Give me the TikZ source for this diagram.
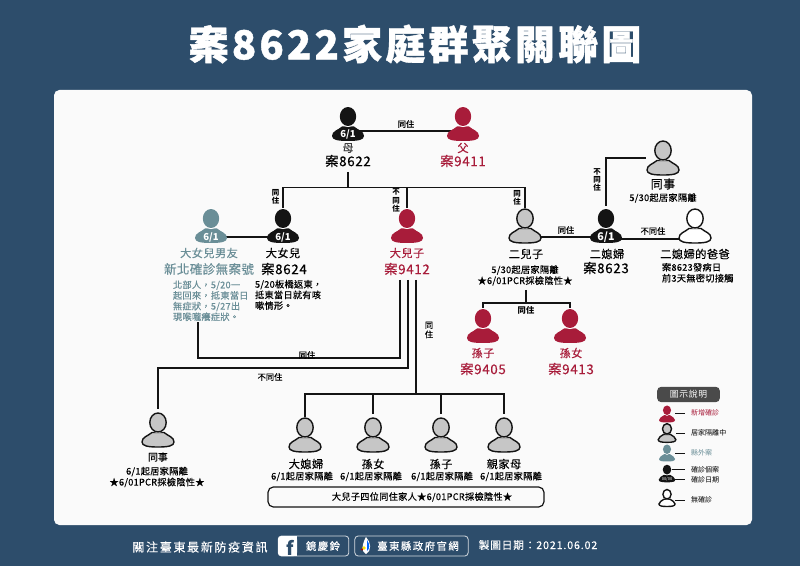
\documentclass[tikz,border=0pt]{standalone}
\usepackage{fontspec}
\setmainfont{Noto Sans CJK TC}
\usetikzlibrary{backgrounds}
\pgfdeclarelayer{cardlayer}
\pgfdeclarelayer{linelayer}
\pgfsetlayers{cardlayer,linelayer,main}
\definecolor{navy}{HTML}{2D4D6B}
\definecolor{cardc}{HTML}{FAFAFA}
\definecolor{redc}{HTML}{A81C3A}
\definecolor{tealc}{HTML}{6A8E97}
\definecolor{greyc}{HTML}{C6C6C6}
\definecolor{inkc}{HTML}{141414}
\definecolor{legc}{HTML}{4A4A4A}
\tikzset{
 x=0.75pt,y=-0.75pt,
 conn/.style={draw=inkc,line width=1.4pt},
 thinconn/.style={draw=inkc,line width=.7pt,shorten >=4.5pt},
 txt/.style={inner sep=0pt,outer sep=0pt,anchor=center,align=center},
 big/.style={txt,font=\fontsize{10}{12}\selectfont\addfontfeature{LetterSpace=5,FakeBold=.35}},
 mid/.style={txt,font=\fontsize{8.4}{10}\selectfont\addfontfeature{LetterSpace=4,FakeBold=.3}},
 sub/.style={txt,font=\fontsize{6.9}{8.2}\selectfont\addfontfeature{LetterSpace=3,FakeBold=.35}},
 lab/.style={txt,font=\fontsize{6.2}{7}\selectfont\addfontfeature{FakeBold=.3}},
 blab/.style={txt,font=\fontsize{5.6}{6.3}\selectfont\bfseries},
 date/.style={txt,text=white,font=\fontsize{7.2}{8}\selectfont\bfseries},
 leg/.style={txt,anchor=west,font=\fontsize{5.3}{6}\selectfont},
 foot/.style={txt,text=white,font=\fontsize{9}{11}\selectfont\addfontfeature{LetterSpace=14,FakeBold=.3}},
 redp/.style={fill=redc,draw=none},
 blackp/.style={fill=inkc,draw=none},
 tealp/.style={fill=tealc,draw=none},
 greyp/.style={fill=greyc,draw=inkc,line width=1.05pt},
 whitep/.style={fill=white,draw=inkc,line width=1.05pt},
}
\newcommand{\person}[5][1]{%
 \node[inner sep=0pt,minimum width={#1*24pt},minimum height={#1*25.5pt}] (#2) at (#3,#4) {};
 \coordinate (#2-s) at (#3,#4+7);
 \begin{scope}[shift={(#3,#4)},scale=#1]
  \path[#5] (-16,12) .. controls (-16,7) and (-10,6) .. (-6,2.5) -- (6,2.5)
    .. controls (10,6) and (16,7) .. (16,12) .. controls (16,16) and (10,17) .. (0,17)
    .. controls (-10,17) and (-16,16) .. (-16,12) -- cycle;
  \path[draw=white,line width=.8pt,fill=white] (0,-7.5) ellipse [x radius=8.2,y radius=10];
  \path[#5] (0,-7.5) ellipse [x radius=8.2,y radius=9.5];
 \end{scope}}
\begin{document}
\begin{tikzpicture}
\useasboundingbox (0,0) rectangle (800,566);
\begin{pgfonlayer}{cardlayer}
 \fill[navy] (0,0) rectangle (800,566);
 \fill[cardc,rounded corners=4pt] (54,90) rectangle (752,525);
\end{pgfonlayer}

\node[txt,text=white,font=\fontsize{30}{34}\selectfont\bfseries\addfontfeature{LetterSpace=8,FakeBold=1}] (title) at (415,44) {案8622家庭群聚關聯圖};

% people
\person{mu}{348}{124}{blackp}
\person{fu}{463}{124}{redp}
\person{dn}{283}{226}{blackp}
\person{bf}{211}{226}{tealp}
\person{de}{407}{226}{redp}
\person{er}{525}{226}{greyp}
\person{ex}{606}{226}{blackp}
\person{ba}{695}{226}{whitep}
\person{ct}{663}{158}{greyp}
\person{gs}{483}{326}{redp}
\person{gd}{570}{326}{redp}
\person{cb}{158}{430}{greyp}
\person{f1}{305}{435}{greyp}
\person{f2}{373}{435}{greyp}
\person{f3}{441}{435}{greyp}
\person{f4}{504}{435}{greyp}

% dates
\node[date] (d1) at (348,134) {6/1};
\node[date] (d2) at (283,237) {6/1};
\node[date] (d3) at (211,237) {6/1};
\node[date,font=\fontsize{8}{9}\selectfont\bfseries] (d4) at (606,237) {6/1};

% connectors
\begin{pgfonlayer}{linelayer}
 \draw[conn] (mu-s) -- (fu-s);
 \coordinate (mulow) at (348,172);
 \coordinate (bus) at (348,187.5);
 \draw[conn] (mulow) -- (bus);
 \draw[conn] (dn.north) -- (dn.north |- bus) -- (er.north |- bus) -- (er.north);
 \draw[conn] (de.north) -- (de.north |- bus);
 \draw[conn] ([yshift=-3pt]bf-s) -- ([yshift=-3pt]dn-s);
 \draw[conn] ([yshift=-3.2pt]er-s) -- ([yshift=-3.2pt]ex-s);
 \draw[conn] ([yshift=-4.2pt]ex-s) -- ([yshift=-4.2pt]ba-s);
 \coordinate (exup) at (606,206);
 \coordinate (ctl) at (646,158);
 \draw[conn] (exup) |- (ctl);
 \coordinate (erlow) at (526,290);
 \coordinate (erbus) at (526,303);
 \draw[conn] (erlow) -- (erbus);
 \draw[conn] (gs.north) -- (gs.north |- erbus) -- (gd.north |- erbus) -- (gd.north);
 \coordinate (ta) at (400,280);
 \coordinate (tb) at (408,280);
 \coordinate (tc) at (416,280);
 \coordinate (wa) at (198,358);
 \coordinate (wb) at (198,322);
 \coordinate (va) at (158,368);
 \coordinate (vb) at (158,409);
 \coordinate (ub) at (416,394);
 \draw[conn] (ta) |- (wa) -- (wb);
 \draw[conn] (tb) |- (va) -- (vb);
 \draw[conn] (tc) -- (ub);
 \draw[conn,shorten >=3pt] (f1.north) -- (f1.north |- ub) -- (f4.north |- ub) -- (f4.north);
 \draw[conn,shorten >=3pt] (f2.north |- ub) -- (f2.north);
 \draw[conn,shorten >=3pt] (f3.north |- ub) -- (f3.north);
\end{pgfonlayer}

% connector labels
\node[lab] (l1) at (406,124) {同住};
\node[blab] (l2) at (275.5,197) {同\\住};
\node[blab] (l3) at (396,200.5) {不\\同\\住};
\node[blab] (l4) at (517,198) {同\\住};
\node[lab] (l5) at (566,230) {同住};
\node[lab] (l6) at (653,231) {不同住};
\node[blab] (l7) at (597,180) {不\\同\\住};
\node[lab] (l8) at (429,330) {同\\住};
\node[lab] (l9) at (307,355) {同住};
\node[lab] (l10) at (270,377) {不同住};
\node[lab,font=\fontsize{6.2}{7}\selectfont\bfseries] (l11) at (526,310) {同住};

% names
\node[mid,text=black!75] (n1) at (348,148) {母};
\node[big] (n2) at (348,161) {案8622};
\node[mid,text=redc] (n3) at (463,148) {父};
\node[big,text=redc] (n4) at (463,161) {案9411};
\node[mid] (n5) at (283,253) {大女兒};
\node[big] (n6) at (284,269) {案8624};
\node[mid,text=tealc] (n7) at (209,253) {大女兒男友};
\node[big,text=tealc,font=\fontsize{9.4}{11}\selectfont\addfontfeature{LetterSpace=3,FakeBold=.3}] (n8) at (209,269) {新北確診無案號};
\node[sub,text=tealc,anchor=north west,align=left,font=\fontsize{6.9}{8}\selectfont\addfontfeature{LetterSpace=3,FakeBold=.3}] (n9) at (173,280.5) {北部人，5/20一\\起回來，抵東當日\\無症狀，5/27出\\現喉嚨癢症狀。};
\node[sub,anchor=north west,align=left,font=\fontsize{6.9}{8}\selectfont\addfontfeature{LetterSpace=3,FakeBold=.35}] (n10) at (255,280) {5/20板橋返東，\\抵東當日就有咳\\嗽情形。};
\node[mid,text=redc] (n11) at (407,253) {大兒子};
\node[big,text=redc] (n12) at (407,269) {案9412};
\node[mid] (n13) at (526,254) {二兒子};
\node[sub] (n14) at (525,275.5) {5/30起居家隔離\\★6/01PCR採檢陰性★};
\node[mid,text=redc] (n15) at (483,353) {孫子};
\node[big,text=redc] (n16) at (483,369) {案9405};
\node[mid,text=redc] (n17) at (571,353) {孫女};
\node[big,text=redc] (n18) at (571,369) {案9413};
\node[mid] (n19) at (607,254) {二媳婦};
\node[big] (n20) at (606,268) {案8623};
\node[mid] (n21) at (695,254) {二媳婦的爸爸};
\node[sub,anchor=north west,align=left] (n22) at (662,263) {案8623發病日\\前3天無密切接觸};
\node[mid,font=\fontsize{9}{10}\selectfont\addfontfeature{LetterSpace=4,FakeBold=.4}] (n23) at (663,184) {同事};
\node[sub] (n24) at (663,198) {5/30起居家隔離};
\node[sub,font=\fontsize{7.4}{9}\selectfont\addfontfeature{FakeBold=.3}] (n25) at (158,457) {同事};
\node[sub] (n26) at (157,477) {6/1起居家隔離\\★6/01PCR採檢陰性★};
\node[mid] (n27) at (306,464) {大媳婦};
\node[mid] (n28) at (373,464) {孫女};
\node[mid] (n29) at (441,464) {孫子};
\node[mid] (n30) at (504,464) {親家母};
\node[sub] (n31) at (302,476.5) {6/1起居家隔離};
\node[sub] (n32) at (371,476.5) {6/1起居家隔離};
\node[sub] (n33) at (442,476.5) {6/1起居家隔離};
\node[sub] (n34) at (511,476.5) {6/1起居家隔離};
\node[draw=inkc,line width=.9pt,rounded corners=4pt,fill=cardc,minimum width=207pt,minimum height=15pt,inner sep=0pt] (box) at (406,497) {};
\node[sub] (n35) at (422,497) {大兒子四位同住家人★6/01PCR採檢陰性★};

% legend
\node[fill=legc,rounded corners=3pt,text=white,inner sep=0pt,minimum width=47pt,minimum height=11.5pt,font=\fontsize{6.6}{8}\selectfont\addfontfeature{LetterSpace=8}] (lt) at (688.5,394.5) {圖示說明};
\person[.5]{p1}{667}{414}{redp}
\person[.55]{p2}{667}{433}{greyp}
\person[.5]{p3}{667}{453}{tealp}
\person[.52]{p4}{667}{473.5}{blackp}
\person[.5]{p5}{667}{498}{whitep}
\node[txt,text=white,font=\fontsize{3}{3}\selectfont] (p4d) at (667,479) {00/00};
\node[leg,text=redc] (e1) at (691,413) {新增確診};
\node[leg] (e2) at (691,433) {居家隔離中};
\node[leg,text=tealc] (e3) at (691,453) {縣外案};
\node[leg] (e4) at (691,469.5) {確診個案};
\node[leg] (e5) at (691,479.5) {確診日期};
\node[leg] (e6) at (691,500) {無確診};
\begin{pgfonlayer}{linelayer}
 \draw[thinconn] (p1.east |- e1.west) -- (e1.west);
 \draw[thinconn] (p2.east |- e2.west) -- (e2.west);
 \draw[thinconn] (p3.east |- e3.west) -- (e3.west);
 \draw[thinconn] (p4 |- e4.west) -- (e4.west);
 \draw[thinconn] (p4 |- e5.west) -- (e5.west);
 \draw[thinconn] (p5.east |- e6.west) -- (e6.west);
\end{pgfonlayer}

% footer
\node[foot] (g1) at (200,547) {關注臺東最新防疫資訊};
\node[draw=white!80!navy,line width=.6pt,rounded corners=2.5pt,minimum width=53pt,minimum height=15pt,inner sep=0pt] (fb) at (313.5,546) {};
\fill[white,rounded corners=2.5pt] (278,536) rectangle (297,556);
\fill[white] (290,536) rectangle (297,556);
\node[txt,text=navy,font=\fontsize{14}{14}\selectfont\bfseries] (ff) at (290,548) {f};
\node[foot,font=\fontsize{7.8}{9}\selectfont\addfontfeature{LetterSpace=14,FakeBold=.3}] (g2) at (323,546) {鏡慶鈴};
\node[draw=white!80!navy,line width=.6pt,rounded corners=2.5pt,minimum width=85pt,minimum height=15pt,inner sep=0pt] (tt) at (411.5,546) {};
\fill[white] (366,537) .. controls (371,542) and (372,551) .. (366,554) .. controls (361,552) and (362,544) .. (366,537) -- cycle;
\fill[blue!60!cyan] (367,540) .. controls (370,544) and (370,549) .. (367,551) -- cycle;
\fill[yellow!85!orange] (364,548) circle [radius=1.8];
\fill[red!75!black] (362,549.5) circle [radius=1.2];
\node[foot,font=\fontsize{7.8}{9}\selectfont\addfontfeature{LetterSpace=14,FakeBold=.3}] (g3) at (418,546) {臺東縣政府官網};
\node[foot,font=\fontsize{8}{9}\selectfont\addfontfeature{LetterSpace=8,FakeBold=.3}] (g4) at (538,545) {製圖日期：2021.06.02};
\end{tikzpicture}
\end{document}
